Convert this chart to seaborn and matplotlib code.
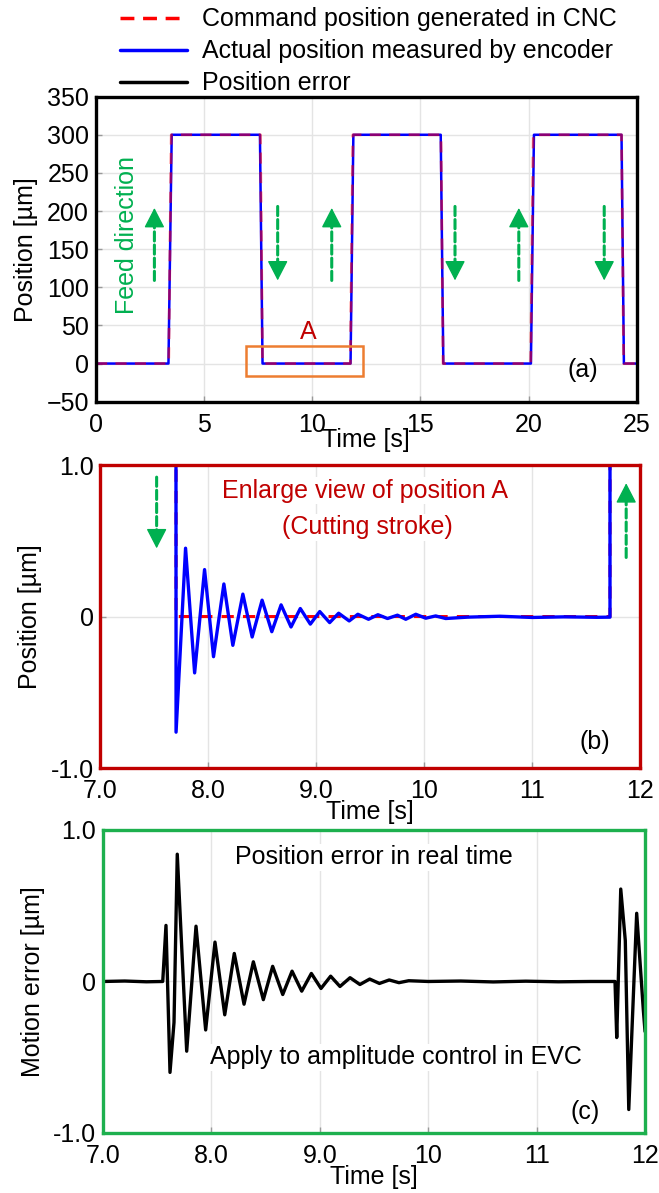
import numpy as np
import pandas as pd
import matplotlib
matplotlib.use('Agg')
import matplotlib.pyplot as plt
import seaborn as sns
from matplotlib.lines import Line2D
from matplotlib.patches import Rectangle

# ---------------- data ----------------
# (a) full stroke, position in um
t_cmd_a = [0, 3.36, 3.48, 7.60, 7.70, 11.76, 11.88, 15.95, 16.05, 20.10, 20.22, 24.30, 24.40, 25]
pos_cmd_a = [0, 0, 300, 300, 0, 0, 300, 300, 0, 0, 300, 300, 0, 0]
t_act_a = [0, 3.35, 3.50, 7.58, 7.70, 11.77, 11.90, 15.94, 16.06, 20.11, 20.25, 24.30, 24.41, 25]
pos_act_a = [0, 0, 300, 300, 0, 0, 300, 300, 0, 0, 300, 300, 0, 0]

# (b) enlarged view of A
t_cmd_b = [7.0, 7.68, 7.70, 11.72, 11.73, 12.0]
pos_cmd_b = [300, 300, 0, 0, 300, 300]
t_act_b = [7.0, 7.58, 7.70, 7.788, 7.872, 7.964, 8.047, 8.143, 8.226, 8.319, 8.405,
           8.497, 8.587, 8.673, 8.765, 8.851, 8.944, 9.031, 9.123, 9.206, 9.304,
           9.384, 9.483, 9.57, 9.659, 9.751, 9.828, 9.921, 10.013, 10.105, 10.198,
           10.4, 10.7, 11.0, 11.3, 11.6, 11.72, 11.74, 12.0]
pos_act_b = [300, 300, -0.763, 0.451, -0.372, 0.31, -0.265, 0.215, -0.19, 0.148, -0.135,
             0.108, -0.10, 0.077, -0.069, 0.053, -0.05, 0.033, -0.04, 0.022, -0.029,
             0.015, -0.018, 0.012, -0.013, 0.009, -0.018, 0.015, -0.011, 0.004, -0.013,
             -0.004, 0.002, -0.006, -0.002, -0.005, -0.004, 300, 300]

# (c) position error
t_err_c = [7.0, 7.2, 7.4, 7.551, 7.581, 7.618, 7.655, 7.685, 7.772, 7.858, 7.947,
           8.033, 8.123, 8.211, 8.301, 8.387, 8.479, 8.565, 8.658, 8.744, 8.833,
           8.922, 9.011, 9.10, 9.186, 9.279, 9.37, 9.46, 9.55, 9.64, 9.73, 9.82,
           10.0, 10.3, 10.6, 10.9, 11.2, 11.5, 11.723, 11.739, 11.776, 11.818,
           11.85, 11.923, 11.984, 12.0]
err_c = [0, 0.003, -0.002, 0, 0.37, -0.60, -0.27, 0.84, -0.46, 0.365, -0.32,
         0.26, -0.22, 0.185, -0.15, 0.13, -0.12, 0.10, -0.086, 0.068, -0.064,
         0.053, -0.046, 0.035, -0.033, 0.025, -0.02, 0.016, -0.013, 0.01, -0.008, 0.005,
         0.0, 0.003, -0.003, 0.002, -0.002, 0.0, 0.0, -0.37, 0.61, 0.27,
         -0.845, 0.45, -0.185, -0.33]

# feed direction arrows: (time, tail, tip)
arrows_a = [(2.7, 109, 204), (8.4, 206, 109), (10.9, 109, 204),
            (16.6, 206, 109), (19.55, 109, 204), (23.5, 206, 109)]
arrows_b = [(7.52, 0.92, 0.45), (11.87, 0.39, 0.88)]

box_A = (6.93, -16, 5.4, 39.3)

legend_labels = ['Command position generated in CNC',
                 'Actual position measured by encoder',
                 'Position error']

RED = '#FF0000'
BLUE = '#0000FF'
GREEN = '#00B050'
DARKRED = '#C00000'
ORANGE = '#ED7D31'

sns.set_theme(style='white')
plt.rcParams['font.family'] = ['Liberation Sans', 'DejaVu Sans']
plt.rcParams['font.size'] = 18
plt.rcParams['text.color'] = 'black'
plt.rcParams['axes.labelcolor'] = 'black'
plt.rcParams['xtick.color'] = 'black'
plt.rcParams['ytick.color'] = 'black'

fig = plt.figure(figsize=(6.59, 11.93), dpi=100)
ax_a = fig.add_axes([0.1457, 0.6633, 0.8204, 0.2557])
ax_b = fig.add_axes([0.1525, 0.3562, 0.8190, 0.2540])
ax_c = fig.add_axes([0.1563, 0.0503, 0.8225, 0.2540])


def style(ax, spine_color):
    for s in ax.spines.values():
        s.set_visible(True)
        s.set_color(spine_color)
        s.set_linewidth(2.4)
        s.set_zorder(5)
    ax.grid(True, color='#e4e4e4', lw=1.0)
    ax.set_axisbelow(True)
    ax.tick_params(direction='in', length=4, width=1, color='#999999',
                   labelsize=18, bottom=True, left=True, labelcolor='black')
    ax.tick_params(axis='x', pad=8)
    ax.tick_params(axis='y', pad=5)


def feed_arrow(ax, x, y0, y1):
    d = y1 - y0
    # dashed shaft
    ax.annotate('', xy=(x, y1 - 0.2 * d), xytext=(x, y0),
                arrowprops=dict(arrowstyle='-', color=GREEN, lw=2.2,
                                ls=(0, (3, 1.3)), shrinkA=0, shrinkB=0))
    # solid head
    ax.annotate('', xy=(x, y1), xytext=(x, y1 - 0.15 * d),
                arrowprops=dict(arrowstyle='-|>,head_length=0.62,head_width=0.32',
                                color=GREEN, lw=1.0, mutation_scale=20,
                                shrinkA=0, shrinkB=0))


# ---- (a) ----
df_act_a = pd.DataFrame({'t': t_act_a, 'pos': pos_act_a})
df_cmd_a = pd.DataFrame({'t': t_cmd_a, 'pos': pos_cmd_a})
sns.lineplot(data=df_act_a, x='t', y='pos', ax=ax_a, color=BLUE, lw=1.8,
             estimator=None, sort=False)
sns.lineplot(data=df_cmd_a, x='t', y='pos', ax=ax_a, color=RED, lw=2.0, alpha=0.55,
             linestyle=(0, (4, 3)), estimator=None, sort=False)
style(ax_a, 'black')
ax_a.set_xlim(0, 25)
ax_a.set_ylim(-50, 350)
ax_a.set_xticks(range(0, 26, 5))
ax_a.set_yticks(range(-50, 351, 50))
ax_a.set_xlabel('Time [s]', fontsize=18, labelpad=-6)
ax_a.set_ylabel('Position [µm]', fontsize=18, labelpad=6)
ax_a.add_patch(Rectangle(box_A[:2], box_A[2], box_A[3], fill=False,
                         ec=ORANGE, lw=1.8, zorder=4))
ax_a.text(9.8, 42, 'A', color=DARKRED, fontsize=18, ha='center', va='center')
ax_a.text(22.5, -8.5, '(a)', fontsize=18, ha='center', va='center')
ax_a.text(1.42, 168, 'Feed direction', color=GREEN, fontsize=18, rotation=90,
          ha='center', va='center')
for x, y0, y1 in arrows_a:
    feed_arrow(ax_a, x, y0, y1)

# ---- (b) ----
df_cmd_b = pd.DataFrame({'t': t_cmd_b, 'pos': pos_cmd_b})
df_act_b = pd.DataFrame({'t': t_act_b, 'pos': pos_act_b})
sns.lineplot(data=df_cmd_b, x='t', y='pos', ax=ax_b, color=RED, lw=2.2,
             linestyle=(0, (4, 3)), estimator=None, sort=False)
sns.lineplot(data=df_act_b, x='t', y='pos', ax=ax_b, color=BLUE, lw=2.4,
             solid_joinstyle='round', estimator=None, sort=False)
style(ax_b, DARKRED)
ax_b.set_xlim(7, 12)
ax_b.set_ylim(-1, 1)
ax_b.set_xticks([7, 8, 9, 10, 11, 12])
ax_b.set_xticklabels(['7.0', '8.0', '9.0', '10', '11', '12'])
ax_b.set_yticks([-1, 0, 1])
ax_b.set_yticklabels(['-1.0', '0', '1.0'])
ax_b.set_xlabel('Time [s]', fontsize=18, labelpad=-2)
ax_b.set_ylabel('Position [µm]', fontsize=18, labelpad=6)
txt_box = dict(facecolor='white', edgecolor='none', pad=1)
ax_b.text(9.45, 0.83, 'Enlarge view of position A', color=DARKRED, fontsize=18,
          ha='center', va='center', bbox=txt_box)
ax_b.text(9.47, 0.59, '(Cutting stroke)', color=DARKRED, fontsize=18,
          ha='center', va='center', bbox=txt_box)
ax_b.text(11.58, -0.83, '(b)', fontsize=18, ha='center', va='center')
for x, y0, y1 in arrows_b:
    feed_arrow(ax_b, x, y0, y1)

# ---- (c) ----
df_err = pd.DataFrame({'t': t_err_c, 'err': err_c})
sns.lineplot(data=df_err, x='t', y='err', ax=ax_c, color='black', lw=2.4,
             solid_joinstyle='round', estimator=None, sort=False)
style(ax_c, '#1DB04E')
ax_c.set_xlim(7, 12)
ax_c.set_ylim(-1, 1)
ax_c.set_xticks([7, 8, 9, 10, 11, 12])
ax_c.set_xticklabels(['7.0', '8.0', '9.0', '10', '11', '12'])
ax_c.set_yticks([-1, 0, 1])
ax_c.set_yticklabels(['-1.0', '0', '1.0'])
ax_c.set_xlabel('Time [s]', fontsize=18, labelpad=-2)
ax_c.set_ylabel('Motion error [µm]', fontsize=18, labelpad=6)
ax_c.text(9.5, 0.82, 'Position error in real time', fontsize=18,
          ha='center', va='center', bbox=txt_box)
ax_c.text(9.7, -0.50, 'Apply to amplitude control in EVC', fontsize=18,
          ha='center', va='center', bbox=txt_box)
ax_c.text(11.45, -0.86, '(c)', fontsize=18, ha='center', va='center')

# ---- legend on top ----
handles = [Line2D([], [], color=RED, lw=2.5, ls=(0, (4, 2.5))),
           Line2D([], [], color=BLUE, lw=2.5),
           Line2D([], [], color='black', lw=2.5)]
fig.legend(handles, legend_labels, loc='upper left', bbox_to_anchor=(0.178, 0.996),
           frameon=False, fontsize=18, handlelength=2.7, handletextpad=0.6,
           labelspacing=0.32, borderpad=0.1, borderaxespad=0)

fig.savefig('out.png', dpi=100)
